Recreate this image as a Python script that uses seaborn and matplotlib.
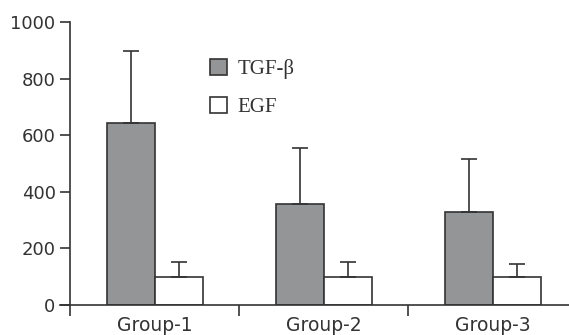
import pandas as pd
import matplotlib.pyplot as plt
import seaborn as sns

groups = ['Group-1', 'Group-2', 'Group-3']
markers = ['TGF-β', 'EGF']
tgf_mean = [643, 357, 329]
tgf_sd = [255, 198, 187]
egf_mean = [99, 99, 99]
egf_sd = [53, 52, 46]

df = pd.DataFrame({
    'group': groups * 2,
    'marker': [markers[0]] * 3 + [markers[1]] * 3,
    'value': tgf_mean + egf_mean,
})
sds = tgf_sd + egf_sd

sns.set_style('ticks')
plt.rcParams['font.family'] = ['DejaVu Sans']

fig = plt.figure(figsize=(5.69, 3.35), dpi=100)
ax = fig.add_axes([60 / 569, 30 / 335, 509 / 569, 283 / 335])

sns.barplot(data=df, x='group', y='value', hue='marker',
            palette={'TGF-β': '#939598', 'EGF': 'white'},
            width=0.57, edgecolor='#333333', linewidth=1.2,
            errorbar=None, ax=ax)

# 위쪽 방향 오차 막대만 표시
for bar, sd in zip(ax.patches[:6], sds):
    x = bar.get_x() + bar.get_width() / 2
    h = bar.get_height()
    ax.errorbar(x, h, yerr=[[0], [sd]], fmt='none', ecolor='#333333',
                elinewidth=1.2, capsize=6, capthick=1.2)

ax.set_ylim(0, 1000)
ax.set_xlim(-0.56, 2.45)
ax.set_yticks([0, 200, 400, 600, 800, 1000])
ax.set_xticks([0, 1, 2])
ax.set_xticklabels(groups)
ax.set_xticks([-0.5, 0.5, 1.5], minor=True)
ax.tick_params(axis='x', which='major', length=0, labelsize=13.5, pad=8, colors='#333333')
ax.tick_params(axis='x', which='minor', length=8, width=1.2, color='#333333')
ax.tick_params(axis='y', length=7, width=1.2, labelsize=13, color='#333333', labelcolor='#333333')
ax.set_xlabel('')
ax.set_ylabel('')

sns.despine(ax=ax)
ax.spines['left'].set_position(('data', -0.5))
for s in ['left', 'bottom']:
    ax.spines[s].set_linewidth(1.2)
    ax.spines[s].set_color('#333333')

leg = ax.legend(title=None, frameon=False, loc='upper left',
                bbox_to_anchor=(210 / 569, 1 - 59 / 335), bbox_transform=fig.transFigure,
                prop={'family': 'Liberation Serif', 'size': 15},
                handlelength=0.82, handleheight=0.82, handletextpad=0.5,
                labelspacing=0.85, borderaxespad=0, borderpad=0)
for t in leg.get_texts():
    t.set_color('#333333')

fig.savefig('out.png', dpi=100)
